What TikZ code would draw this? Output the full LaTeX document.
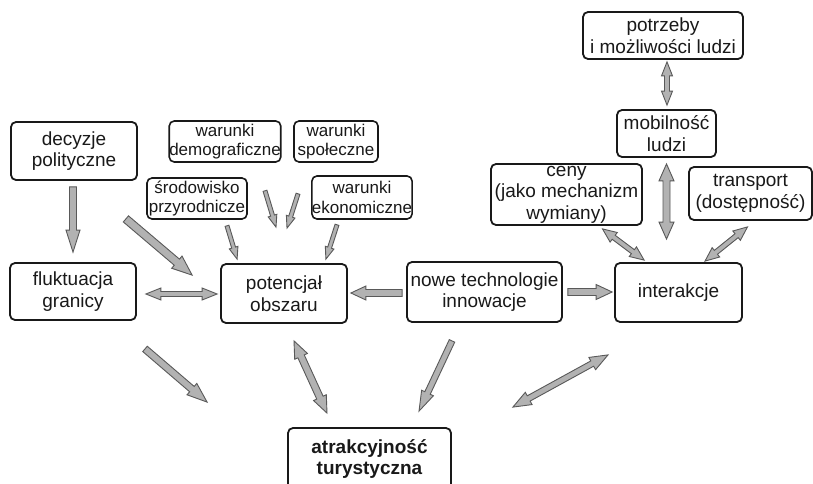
\documentclass[tikz,border=0pt]{standalone}
\usepackage{fontspec}
\setmainfont{Liberation Sans}
\usetikzlibrary{calc}

\tikzset{
    box/.style={draw=black!90, line width=1.8pt, rounded corners=5pt,
        align=center, inner sep=0pt, text=black!90,
        font=\fontsize{19}{21.5}\selectfont},
    smallbox/.style={box, line width=1.6pt, font=\fontsize{17}{19.5}\selectfont},
    arrowfill/.style={draw=black!65, fill=black!30, line width=0.9pt}
}

% #1 half shaft, #2 half head, #3 head length, #4 tail, #5 tip
\newcommand{\onearrow}[5]{%
    \draw[arrowfill] let \p1=(#4), \p2=(#5), \p3=($(\p2)!#3pt!(\p1)$) in
        ($(\p1)!#1pt!90:(\p2)$) -- ($(\p3)!#1pt!90:(\p2)$) -- ($(\p3)!#2pt!90:(\p2)$) -- (\p2)
        -- ($(\p3)!#2pt!-90:(\p2)$) -- ($(\p3)!#1pt!-90:(\p2)$) -- ($(\p1)!#1pt!-90:(\p2)$) -- cycle;}
\newcommand{\twoarrow}[5]{%
    \draw[arrowfill] let \p1=(#4), \p2=(#5), \p3=($(\p2)!#3pt!(\p1)$), \p4=($(\p1)!#3pt!(\p2)$) in
        (\p1) -- ($(\p4)!#2pt!-90:(\p1)$) -- ($(\p4)!#1pt!-90:(\p1)$) -- ($(\p3)!#1pt!90:(\p2)$)
        -- ($(\p3)!#2pt!90:(\p2)$) -- (\p2) -- ($(\p3)!#2pt!-90:(\p2)$) -- ($(\p3)!#1pt!-90:(\p2)$)
        -- ($(\p4)!#1pt!90:(\p1)$) -- ($(\p4)!#2pt!90:(\p1)$) -- cycle;}

\begin{document}
\begin{tikzpicture}[x=1pt, y=-1pt]

    \fill[white] (0,0) rectangle (813,484);
    \useasboundingbox (0,0) rectangle (813,484);

    \node[box, minimum width=160, minimum height=47] (potrzeby) at (663,35.5) {potrzeby\\ i możliwości ludzi};
    \node[box, minimum width=99, minimum height=47] (mobilnosc) at (666.5,133.5) {mobilność\\ ludzi};
    \node[box, minimum width=151, minimum height=61] (ceny) at (566.5,194.5) {ceny\\ (jako mechanizm\\ wymiany)};
    \node[box, minimum width=123, minimum height=53] (transport) at (750.5,193.5) {transport\\ (dostępność)};

    \node[box, minimum width=126, minimum height=58] (decyzje) at (74,151) {decyzje\\ polityczne};
    \node[smallbox, minimum width=110, minimum height=41] (demo) at (225,141.5) {warunki\\ demograficzne};
    \node[smallbox, minimum width=84, minimum height=41] (spol) at (336,141.5) {warunki\\ społeczne};
    \node[smallbox, minimum width=100, minimum height=41] (srod) at (197,198.5) {środowisko\\ przyrodnicze};
    \node[smallbox, minimum width=100, minimum height=43] (ekon) at (362,197.5) {warunki\\ ekonomiczne};

    \node[box, minimum width=126, minimum height=57] (fluktuacja) at (73,291.5) {fluktuacja\\ granicy};
    \node[box, minimum width=126, minimum height=59] (potencjal) at (284,293.5) {potencjał\\ obszaru};
    \node[box, minimum width=155, minimum height=60] (nowe) at (484.5,292) {nowe technologie\\ innowacje};
    \node[box, minimum width=127, minimum height=59] (interakcje) at (678.5,292.5) {interakcje};

    \node[box, minimum width=163, minimum height=62,
        font=\fontsize{19}{21.5}\selectfont\bfseries] (atrakcyjnosc) at (369.5,459) {atrakcyjność\\ turystyczna};

    \onearrow{3.5}{7}{22}{$(decyzje.south)+(-1,6)$}{$(fluktuacja.north)+(0,-10)$}
    \onearrow{4}{8}{20}{$(decyzje.south east)+(-12,38)$}{$(potencjal.north west)+(-28,12)$}
    \twoarrow{2.5}{6}{15}{$(fluktuacja.east)+(9,2.5)$}{$(potencjal.west)+(-3,0.5)$}
    \onearrow{2}{4.5}{12}{$(srod.south)+(30,6)$}{$(potencjal.north west)+(17,-4)$}
    \onearrow{2}{4.5}{12}{$(demo.south)+(40,28)$}{$(potencjal.north)+(-8,-36)$}
    \onearrow{2}{4.5}{12}{$(spol.south)+(-38,31)$}{$(potencjal.north)+(3,-35)$}
    \onearrow{2}{4.5}{12}{$(ekon.south)+(-25,5)$}{$(potencjal.north east)+(-22,-4)$}
    \onearrow{3.5}{7}{15}{$(nowe.west)+(-4,1)$}{$(potencjal.east)+(3,-0.5)$}
    \onearrow{3.5}{7.5}{16}{$(nowe.east)+(5,0)$}{$(interakcje.west)+(-2,-0.5)$}

    \twoarrow{2.5}{5.5}{14}{$(potrzeby.south)+(4,2)$}{$(mobilnosc.north)+(0.5,-4)$}
    \twoarrow{3.5}{7.5}{17}{$(mobilnosc.south)+(0,6)$}{$(interakcje.north)+(-12,-23)$}
    \twoarrow{2.5}{6}{14}{$(ceny.south)+(36,3)$}{$(interakcje.north west)+(30,-2)$}
    \twoarrow{2.5}{6}{14}{$(transport.south)+(-3,6)$}{$(interakcje.north)+(26.5,-1)$}

    \onearrow{3.5}{7.5}{20}{$(fluktuacja.south)+(72,28)$}{$(atrakcyjnosc.north west)+(-80,-25)$}
    \twoarrow{3.5}{7}{17}{$(potencjal.south)+(10,17)$}{$(atrakcyjnosc.north)+(-42.5,-14)$}
    \onearrow{3}{6.5}{20}{$(nowe.south)+(-32.5,18)$}{$(atrakcyjnosc.north)+(49.5,-16)$}
    \twoarrow{3}{7}{18}{$(interakcje.south)+(-70.5,32)$}{$(atrakcyjnosc.north east)+(61,-20)$}

\end{tikzpicture}
\end{document}
